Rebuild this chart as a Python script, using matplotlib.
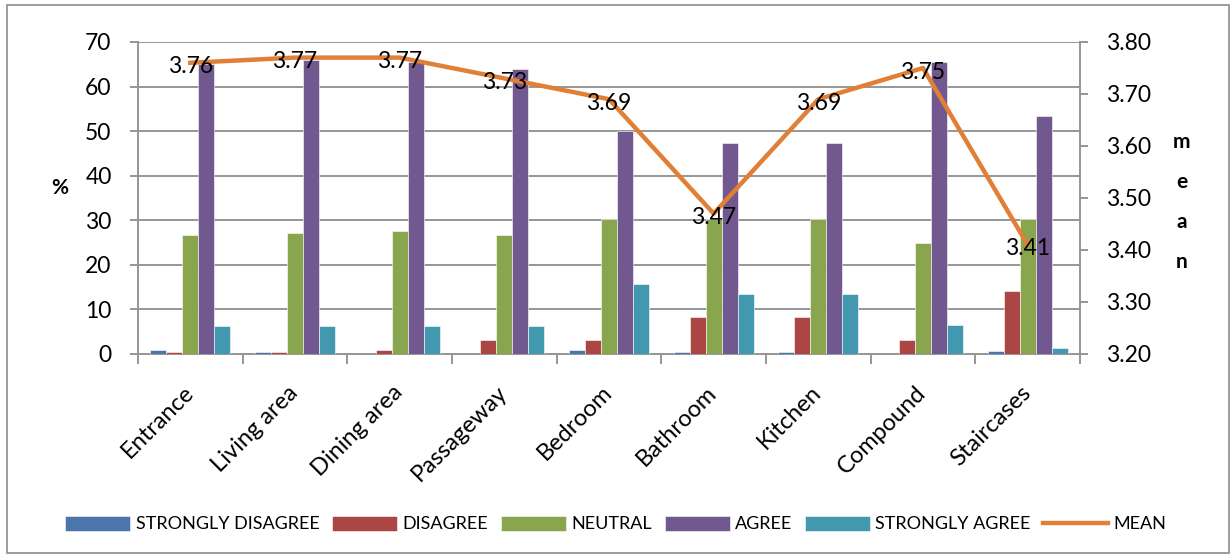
import matplotlib
matplotlib.use("Agg")
import matplotlib.pyplot as plt
from matplotlib.patches import Rectangle
import numpy as np

plt.rcParams['font.family'] = ['Lato', 'DejaVu Sans']

categories = ['Entrance', 'Living area', 'Dining area', 'Passageway', 'Bedroom',
              'Bathroom', 'Kitchen', 'Compound', 'Staircases']
strongly_disagree = [1.0, 0.5, 0.0, 0.0, 1.0, 0.5, 0.5, 0.0, 0.7]
disagree = [0.5, 0.5, 1.0, 3.1, 3.1, 8.3, 8.3, 3.1, 14.2]
neutral = [26.6, 27.1, 27.6, 26.6, 30.2, 30.2, 30.2, 25.0, 30.2]
agree = [65.0, 66.0, 65.5, 64.0, 50.0, 47.4, 47.4, 65.5, 53.4]
strongly_agree = [6.2, 6.2, 6.2, 6.2, 15.6, 13.5, 13.5, 6.4, 1.4]
mean = [3.76, 3.77, 3.77, 3.73, 3.69, 3.47, 3.69, 3.75, 3.41]

series = [('STRONGLY DISAGREE', strongly_disagree, '#4a76ab'),
          ('DISAGREE', disagree, '#ab4644'),
          ('NEUTRAL', neutral, '#89a54e'),
          ('AGREE', agree, '#71588f'),
          ('STRONGLY AGREE', strongly_agree, '#4198af')]

fig = plt.figure(figsize=(12.32, 5.56), dpi=100)
ax = fig.add_axes([138/1232, 1 - 354/556, (1080-138)/1232, (354-42)/556])

x = np.arange(len(categories))
w = 0.153
for i, (name, vals, col) in enumerate(series):
    ax.bar(x + (i - 2) * w, vals, w, color=col, label=name, zorder=3,
           edgecolor='white', linewidth=0.4)

ax.set_xlim(-0.5, len(categories) - 0.5)
ax.set_ylim(0, 70)
ax.set_yticks(range(0, 71, 10))
ax.yaxis.grid(True, color='#969696', linewidth=1.4, zorder=0)
ax.set_xticks(np.arange(-0.5, len(categories), 1), minor=False)
ax.set_xticklabels([''] * 10)
ax.set_xticks(x + 0.07, minor=True)
ax.set_xticklabels(categories, minor=True, rotation=45, ha='right', va='top',
                   fontsize=17)
ax.tick_params(axis='x', which='minor', length=0, pad=20)
ax.tick_params(axis='x', which='major', length=7, width=1.4, color='#969696')
ax.tick_params(axis='y', length=6, width=1.4, color='#969696', labelsize=16.5, pad=13)
for s in ['top', 'right']:
    ax.spines[s].set_visible(False)
for s in ['left', 'bottom']:
    ax.spines[s].set_color('#969696')
    ax.spines[s].set_linewidth(1.4)
ax.set_ylabel('%', fontsize=15, fontweight='bold', rotation=0)
ax.yaxis.set_label_coords(-0.083, 0.5)

ax2 = ax.twinx()
ax2.plot(x, mean, color='#e07f35', linewidth=3.2, label='MEAN', zorder=5)
ax2.set_ylim(3.2, 3.8)
ax2.set_yticks(np.arange(3.2, 3.81, 0.1))
ax2.set_yticklabels([f'{v:.2f}' for v in np.arange(3.2, 3.81, 0.1)])
ax2.tick_params(axis='y', length=6, width=1.4, color='#969696', labelsize=16.5, pad=13)
for s in ['top', 'left', 'bottom']:
    ax2.spines[s].set_visible(False)
ax2.spines['right'].set_color('#969696')
ax2.spines['right'].set_linewidth(1.4)
for xi, m in zip(x, mean):
    ax2.annotate(f'{m:.2f}', (xi, m), xytext=(0, -3), textcoords='offset points',
                 ha='center', va='center', fontsize=16.5, zorder=6)

fig.text(1182/1232, 1 - 202/556, 'm\ne\na\nn', ha='center', va='center',
         fontsize=15, fontweight='bold', linespacing=2.25)

handles1, labels1 = ax.get_legend_handles_labels()
handles2, labels2 = ax2.get_legend_handles_labels()
fig.legend(handles1 + handles2, labels1 + labels2, loc='center',
           bbox_to_anchor=(616/1232, 1 - 524/556), ncol=6, frameon=False,
           fontsize=13, handlelength=3.6, handleheight=0.9,
           handletextpad=0.3, columnspacing=0.7, borderaxespad=0)

fig.patches.append(Rectangle((7/1232, 3/556), 1222/1232, 548/556,
                             transform=fig.transFigure, fill=False,
                             edgecolor='#8c8c8c', linewidth=1.2))

fig.savefig('out.png', dpi=100)
